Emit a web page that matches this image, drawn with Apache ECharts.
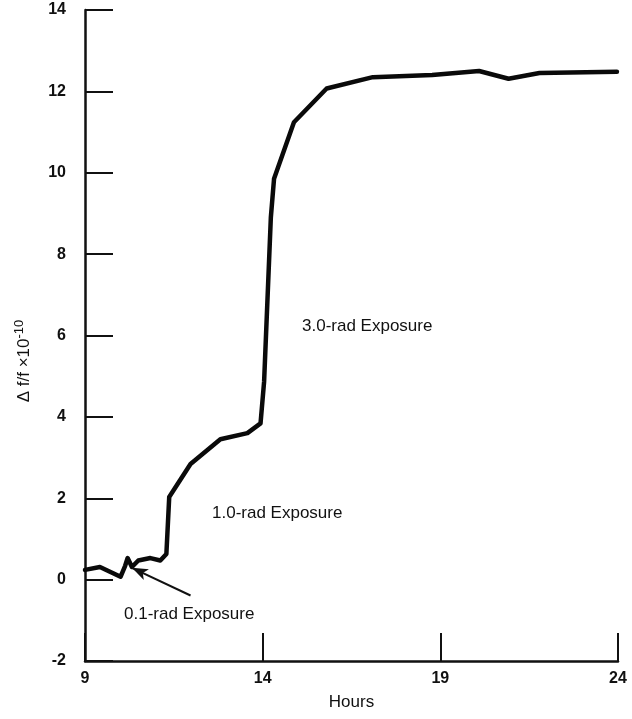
<!DOCTYPE html>
<html>
<head>
<meta charset="utf-8">
<script src="https://cdn.jsdelivr.net/npm/echarts@6/dist/echarts.min.js"></script>
<style>
  html, body { margin: 0; padding: 0; background: #fff; }
  #chart { width: 632px; height: 719px; }
</style>
</head>
<body>
<div id="chart"></div>
<script>
// Data
const hours = [9.0, 9.42, 10.0, 10.13, 10.2, 10.32, 10.5, 10.84, 11.12, 11.29, 11.37, 11.97, 12.81, 13.57, 13.94, 14.04, 14.23, 14.32, 14.88, 15.8, 17.1, 18.77, 20.09, 20.92, 21.79, 23.97];
const deltaF = [0.24, 0.31, 0.07, 0.34, 0.53, 0.31, 0.47, 0.53, 0.47, 0.63, 2.03, 2.84, 3.45, 3.6, 3.84, 4.86, 8.9, 9.85, 11.24, 12.07, 12.35, 12.4, 12.5, 12.31, 12.45, 12.48];
const xTicks = [9, 14, 19, 24];
const yTicks = [-2, 0, 2, 4, 6, 8, 10, 12, 14];
const arrowTail = [11.97, -0.39];
const arrowHead = [10.32, 0.29];
const annotations = ['3.0-rad Exposure', '1.0-rad Exposure', '0.1-rad Exposure'];
const yTitle = ['Δ f/f ×10', '-10'];

const seriesData = hours.map((h, i) => [h, deltaF[i]]);
const FONT = 'Liberation Sans, Arial, Helvetica, sans-serif';

const chart = echarts.init(document.getElementById('chart'), null, { renderer: 'canvas' });
chart.setOption({
  backgroundColor: '#ffffff',
  animation: false,
  grid: { left: 85, right: 14, top: 10, bottom: 58, containLabel: false },
  xAxis: {
    type: 'value',
    min: 9, max: 24,
    name: 'Hours',
    nameLocation: 'middle',
    nameGap: 33,
    nameTextStyle: { fontFamily: FONT, fontSize: 17, color: '#111' },
    axisLine: { show: true, onZero: false, lineStyle: { color: '#111', width: 2.5 } },
    axisTick: { show: true, inside: true, length: 28, customValues: xTicks, lineStyle: { color: '#111', width: 2 } },
    axisLabel: { customValues: xTicks, margin: 10, fontFamily: FONT, fontSize: 16, color: '#111', fontWeight: 'bold' },
    splitLine: { show: false }
  },
  yAxis: {
    type: 'value',
    min: -2, max: 14, interval: 2,
    axisLine: { show: true, onZero: false, lineStyle: { color: '#111', width: 2.5 } },
    axisTick: { show: true, inside: true, length: 28, lineStyle: { color: '#111', width: 2 } },
    axisLabel: { margin: 19, fontFamily: FONT, fontSize: 16, color: '#111', fontWeight: 'bold' },
    splitLine: { show: false }
  },
  series: [{
    type: 'line',
    data: seriesData,
    showSymbol: false,
    symbol: 'none',
    smooth: false,
    lineStyle: { color: '#0a0a0a', width: 4.5, join: 'round', cap: 'round' },
    markLine: {
      silent: true,
      symbol: ['none', 'arrow'],
      symbolSize: [9, 16],
      label: { show: false },
      lineStyle: { color: '#111', width: 2, type: 'solid' },
      data: [[{ coord: arrowTail }, { coord: arrowHead }]]
    }
  }],
  graphic: [
    { type: 'text', left: 302, top: 318, style: { text: annotations[0], font: '17px ' + FONT, fill: '#111' } },
    { type: 'text', left: 212, top: 505, style: { text: annotations[1], font: '17px ' + FONT, fill: '#111' } },
    { type: 'text', left: 124, top: 606, style: { text: annotations[2], font: '17px ' + FONT, fill: '#111' } },
    {
      type: 'text', x: 24, y: 361, rotation: Math.PI / 2,
      style: {
        text: '{a|' + yTitle[0] + '}{b|' + yTitle[1] + '}',
        align: 'center', verticalAlign: 'middle',
        rich: {
          a: { fontFamily: FONT, fontSize: 17, fill: '#111', color: '#111' },
          b: { fontFamily: FONT, fontSize: 13, fill: '#111', color: '#111', verticalAlign: 'top', padding: [0, 0, 9, 0] }
        }
      }
    }
  ]
});
</script>
</body>
</html>
